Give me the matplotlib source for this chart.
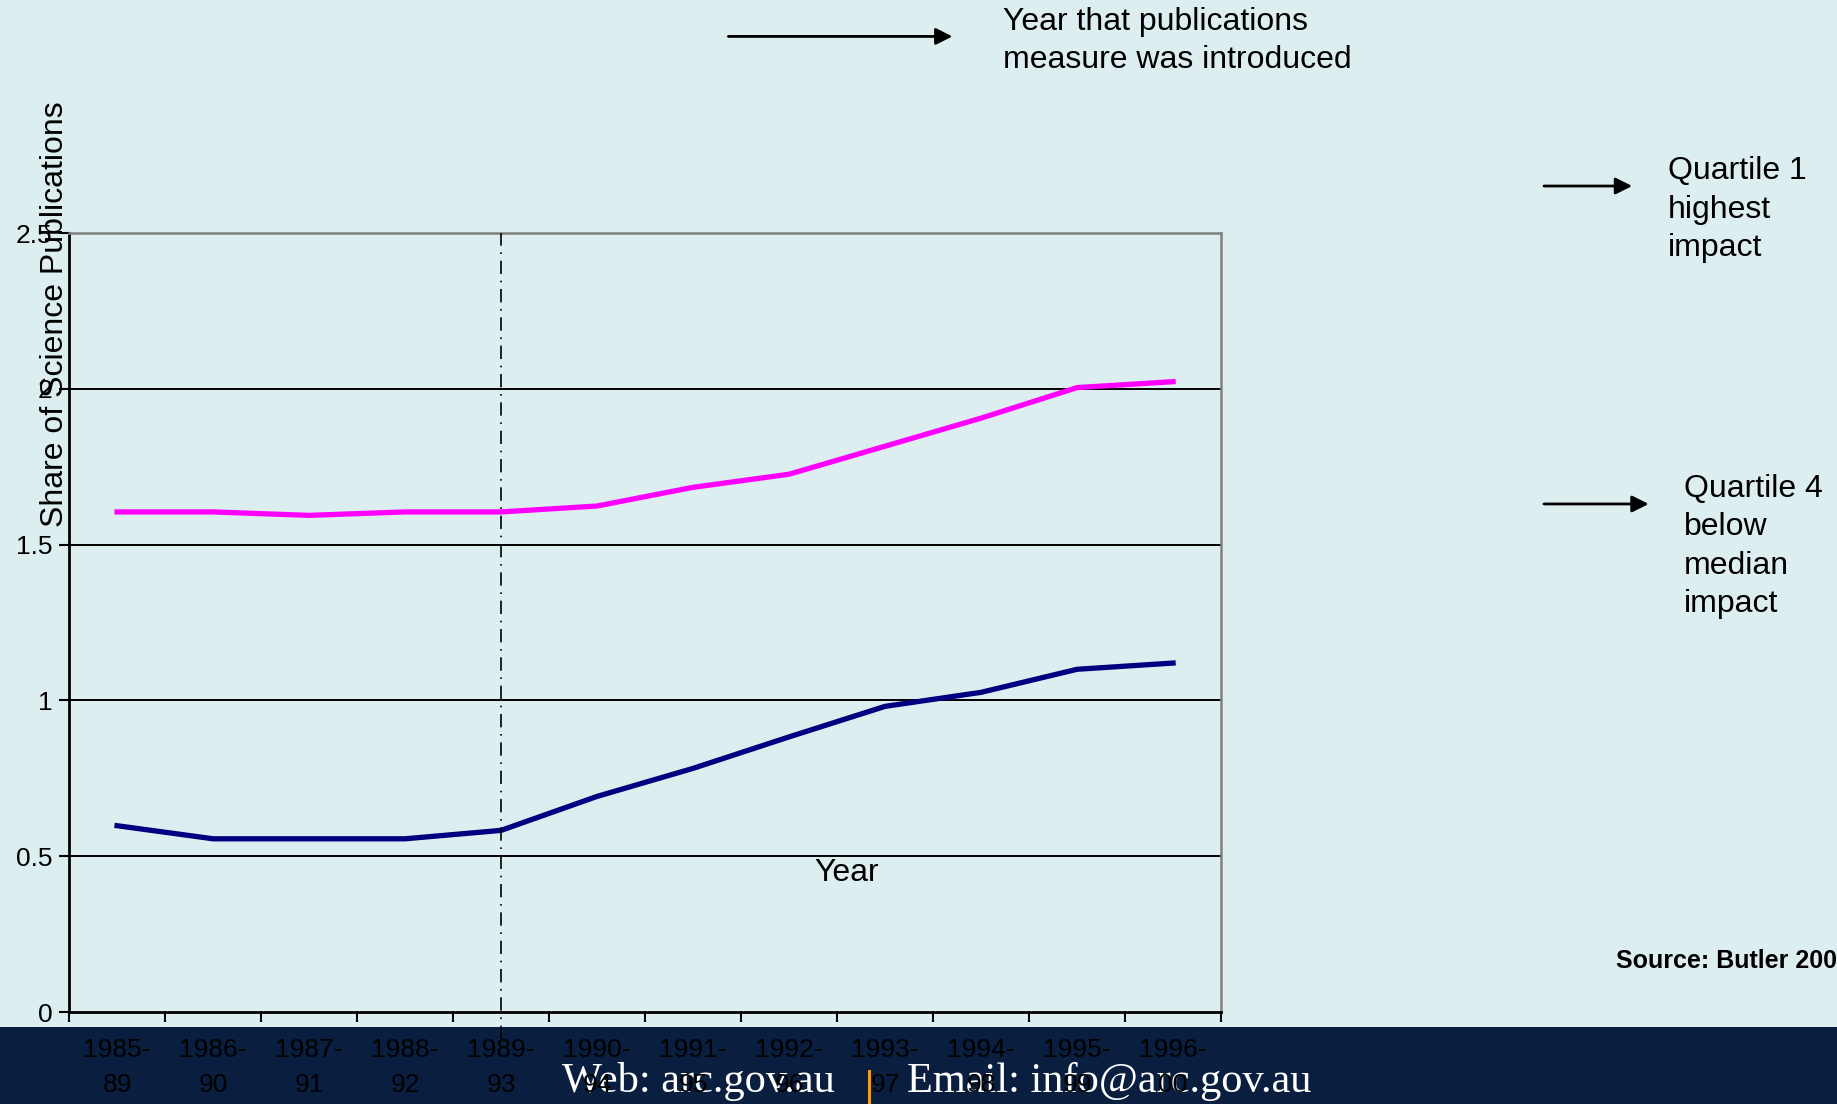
import numpy as np
import matplotlib
matplotlib.use('Agg')
import matplotlib.pyplot as plt
from matplotlib.patches import Rectangle

plt.rcParams['font.family'] = ['Liberation Sans', 'DejaVu Sans']

# data
periods = ['1985-\n89', '1986-\n90', '1987-\n91', '1988-\n92', '1989-\n93', '1990-\n94',
           '1991-\n95', '1992-\n96', '1993-\n97', '1994-\n98', '1995-\n99', '1996-\n00']
quartile1 = [1.605, 1.605, 1.594, 1.605, 1.605, 1.624, 1.684, 1.726, 1.816, 1.906, 2.004, 2.023]
quartile4 = [0.598, 0.556, 0.556, 0.556, 0.583, 0.692, 0.782, 0.883, 0.981, 1.026, 1.100, 1.120]
intro_period = '1989-\n93'
y_ticks = [0, 0.5, 1, 1.5, 2, 2.5]
y_tick_labels = ['0', '0.5', '1', '1.5', '2', '2.5']

bg = '#ddeef0'
footer = '#0a1f40'

fig = plt.figure(figsize=(18.37, 11.04), dpi=100, facecolor=bg)
ax = fig.add_axes([0.0376, 0.0833, 0.6271, 0.7056])
ax.set_facecolor(bg)

x = np.arange(len(periods)) + 0.5
ax.plot(x, quartile1, color='#ff00ff', lw=3.8, zorder=3)
ax.plot(x, quartile4, color='#000080', lw=3.8, zorder=3)

# year the measure was introduced
xi = x[periods.index(intro_period)]
ax.axvline(xi, ymin=-0.035, ymax=1, color='black', lw=1.2, ls=(0, (8, 4, 1, 4)),
           clip_on=False, zorder=4)

ax.set_xlim(0, len(periods))
ax.set_ylim(0, 2.5)
ax.set_yticks(y_ticks)
ax.set_yticklabels(y_tick_labels, fontsize=19)
for yv in y_ticks[1:-1]:
    ax.axhline(yv, color='black', lw=1.4, zorder=2)

ax.set_xticks(np.arange(len(periods) + 1))
ax.set_xticklabels([])
ax.set_xticks(x, minor=True)
ax.set_xticklabels(periods, minor=True, fontsize=19, linespacing=1.55)
ax.tick_params(axis='x', which='major', length=7, width=1.5, direction='out')
ax.tick_params(axis='x', which='minor', length=0, pad=19)
ax.tick_params(axis='y', length=7, width=1.5, pad=5)

for s in ['top', 'right']:
    ax.spines[s].set_color('#808080')
    ax.spines[s].set_linewidth(1.8)
for s in ['left', 'bottom']:
    ax.spines[s].set_color('black')
    ax.spines[s].set_linewidth(2)

fig.text(0.030, 0.7156, 'Share of Science Publications', rotation=90,
         ha='center', va='center', fontsize=23)
fig.text(0.461, 0.209, 'Year', ha='center', va='center', fontsize=23)

# annotations
arrow = dict(arrowstyle='-|>', color='black', lw=2, mutation_scale=25)
fig.patches.append(Rectangle((0, 0), 1, 0.0697, transform=fig.transFigure,
                             facecolor=footer, edgecolor='none', zorder=-2))
ax.annotate('', xy=(0.520, 0.967), xytext=(0.395, 0.967), xycoords='figure fraction',
            textcoords='figure fraction', arrowprops=arrow)
fig.text(0.546, 0.963, 'Year that publications\nmeasure was introduced',
         ha='left', va='center', fontsize=23, linespacing=1.36)

ax.annotate('', xy=(0.890, 0.8315), xytext=(0.839, 0.8315), xycoords='figure fraction',
            textcoords='figure fraction', arrowprops=arrow)
fig.text(0.908, 0.810, 'Quartile 1\nhighest\nimpact',
         ha='left', va='center', fontsize=23, linespacing=1.36)

ax.annotate('', xy=(0.899, 0.5435), xytext=(0.839, 0.5435), xycoords='figure fraction',
            textcoords='figure fraction', arrowprops=arrow)
fig.text(0.9165, 0.505, 'Quartile 4\nbelow\nmedian\nimpact',
         ha='left', va='center', fontsize=23, linespacing=1.36)

fig.text(0.8795, 0.1297, 'Source: Butler 2003', ha='left', va='center',
         fontsize=18, fontweight='bold')

# footer
fig.text(0.306, 0.020, 'Web: arc.gov.au', ha='left', va='center', fontsize=30.5,
         color='white', family='Liberation Serif', zorder=-1)
fig.patches.append(Rectangle((0.4725, 0.0), 0.0018, 0.031, transform=fig.transFigure,
                             facecolor='#f0a020', edgecolor='none', zorder=-1))
fig.text(0.494, 0.020, 'Email: info@arc.gov.au', ha='left', va='center', fontsize=30.5,
         color='white', family='Liberation Serif', zorder=-1)

fig.savefig('out.png', dpi=100, facecolor=bg)
